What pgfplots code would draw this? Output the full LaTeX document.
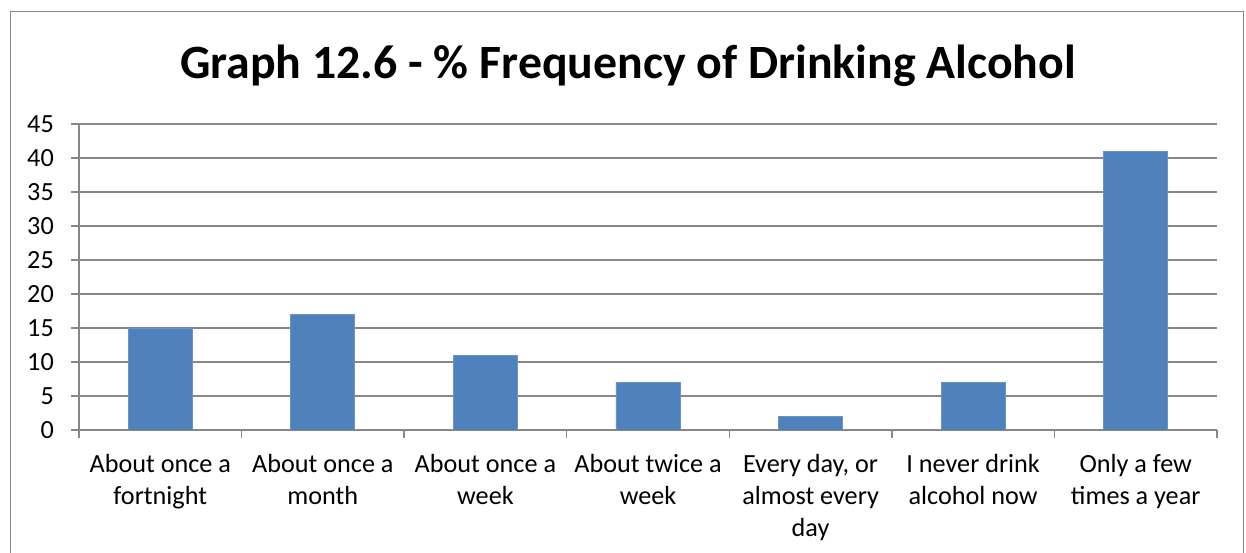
\documentclass[border=0pt]{standalone}
\usepackage{pgfplots}
\pgfplotsset{compat=1.18}
\usepackage{fontspec}
\setmainfont{Carlito}
\definecolor{barblue}{HTML}{4F81BD}
\definecolor{gridgray}{HTML}{878787}
\begin{document}
\begin{tikzpicture}[x=1bp,y=1bp]
\useasboundingbox (0,0) rectangle (1246,553);
\draw[gridgray, line width=1.3bp] (10.5,-2) -- (10.5,541.5) -- (1243.5,541.5) -- (1243.5,-2);
\node[anchor=base, inner sep=0pt, font=\fontsize{48}{58}\selectfont\bfseries] at (628,474) {Graph 12.6 - \% Frequency of Drinking Alcohol};
\begin{axis}[
  at={(79bp,123bp)}, anchor=south west,
  scale only axis, width=1138bp, height=306bp,
  xmin=-0.5, xmax=6.5, ymin=0, ymax=45,
  ytick={0,5,...,45},
  xtick={0,...,6},
  xticklabels={{About once a\\fortnight},{About once a\\month},{About once a\\week},{About twice a\\week},{Every day, or\\almost every\\day},{I never drink\\alcohol now},{Only a few\\times a year}},
  minor xtick={-0.5,0.5,...,6.5},
  axis x line*=bottom, axis y line*=left,
  ymajorgrids, grid style={gridgray, line width=1.3bp},
  axis line style={gridgray, line width=1.3bp},
  tick align=outside,
  major tick length=8bp, minor tick length=8bp,
  major x tick style={draw=none},
  minor x tick style={gridgray, line width=1.3bp},
  ytick style={gridgray, line width=1.3bp},
  /pgf/number format/assume math mode=true,
  ticklabel style={font=\fontsize{26.3}{32}\selectfont, text=black},
  yticklabel style={anchor=east, inner sep=0pt, xshift=-17bp},
  xticklabel style={align=center, anchor=north, inner sep=0pt, yshift=-16bp},
]
\addplot[ybar, bar width=64bp, fill=barblue, draw=barblue!85!white, line width=0.8bp] coordinates {(0,15) (1,17) (2,11) (3,7) (4,2) (5,7) (6,41)};
\end{axis}
\end{tikzpicture}
\end{document}
